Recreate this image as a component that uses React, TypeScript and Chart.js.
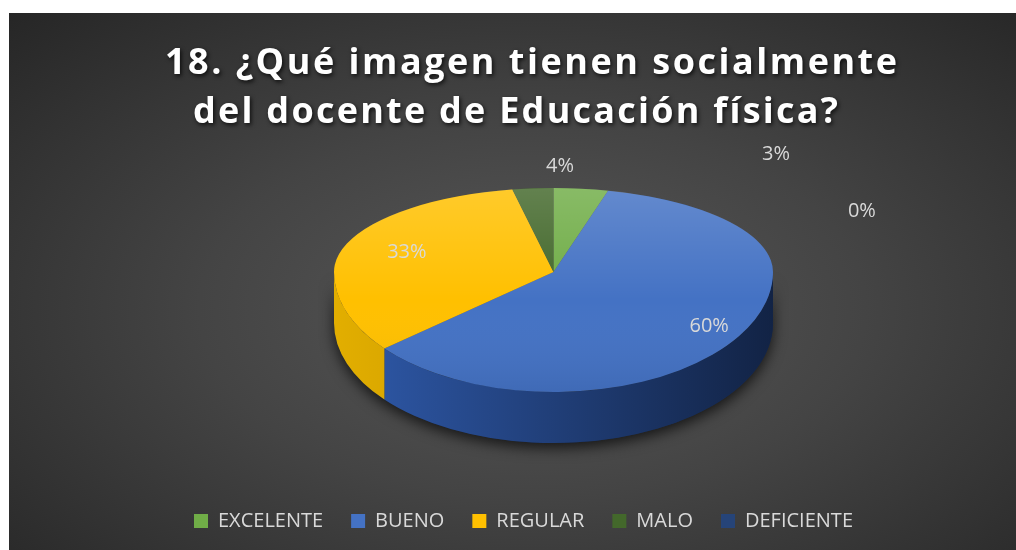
import React, { useEffect, useRef } from "react";
import { Chart, registerables } from "chart.js";

Chart.register(...registerables);

// ---------- data ----------
const categories = ["EXCELENTE", "BUENO", "REGULAR", "MALO", "DEFICIENTE"];
const values = [4, 60, 33, 3, 0];
const titleLines = ["18. ¿Qué imagen tienen socialmente", "del docente de Educación física?"];

// ---------- styles ----------
const topColors = ["#70AD47", "#4472C4", "#FFC000", "#43682B", "#264478"];
const sideLeft = ["#5f9a3c", "#2f5aab", "#e2ae00", "#3a5c26", "#203a68"];
const sideRight = ["#3d6626", "#122345", "#a88000", "#243a17", "#101f3a"];
const FONT = "'Open Sans', 'Liberation Sans', sans-serif";
const TEXT = "#d9d9d9";

// pie geometry (top face: vertex, half-width, back and front half-heights, depth) in canvas px
const PIE = { cx: 544.5, vy: 259, rx: 219.5, ryTop: 84, ryBot: 120, depth: 51 };
// label placement: r = radial factor at slice middle, or fixed normalized offset (x,y)
const labelPlace: any[] = [
  { x: 0.03, y: -1.26 },
  { r: 0.84 },
  { r: 0.71 },
  { x: 1.014, y: -1.405 },
  { x: 1.405, y: -0.726 },
];
// title layout
const titleLayout = [
  { left: 156, width: 732, base: 61 },
  { left: 184, width: 645, base: 110 },
];

const TAU = Math.PI * 2;

function visibleRanges(s: number, e: number): [number, number][] {
  const out: [number, number][] = [];
  for (const k of [-TAU, 0, TAU]) {
    const a = Math.max(s + k, 0);
    const b = Math.min(e + k, Math.PI);
    if (b > a) out.push([a, b]);
  }
  return out;
}

const pie3d = {
  id: "pie3d",
  beforeDatasetsDraw(chart: any) {
    const ctx: CanvasRenderingContext2D = chart.ctx;
    const meta = chart.getDatasetMeta(0);
    const arcs = meta.data;
    const { cx, vy, rx, ryTop, ryBot, depth } = PIE;
    // shadow under side
    ctx.save();
    ctx.shadowColor = "rgba(0,0,0,0.7)";
    ctx.shadowBlur = 14;
    ctx.shadowOffsetY = 5;
    ctx.beginPath();
    ctx.ellipse(cx, vy, rx, ryBot, 0, 0, Math.PI);
    ctx.ellipse(cx, vy + depth, rx, ryBot, 0, Math.PI, 0, true);
    ctx.closePath();
    ctx.fillStyle = "#1a2a4a";
    ctx.fill();
    ctx.restore();
    // side walls
    arcs.forEach((el: any, i: number) => {
      if (!values[i]) return;
      visibleRanges(el.startAngle, el.endAngle).forEach(([a, b]) => {
        const g = ctx.createLinearGradient(cx - rx, 0, cx + rx, 0);
        g.addColorStop(0, sideLeft[i]);
        g.addColorStop(1, sideRight[i]);
        ctx.beginPath();
        ctx.ellipse(cx, vy, rx, ryBot, 0, a, b);
        ctx.ellipse(cx, vy + depth, rx, ryBot, 0, b, a, true);
        ctx.closePath();
        ctx.fillStyle = g;
        ctx.fill();
      });
    });
    // top face: library arcs drawn in two halves (back / front) for a perspective look
    const a0 = arcs[0];
    const R = a0.outerRadius;
    const W = chart.width;
    const H = chart.height;
    [
      { y0: 0, y1: vy, ry: ryTop },
      { y0: vy, y1: H, ry: ryBot },
    ].forEach((h) => {
      ctx.save();
      ctx.beginPath();
      ctx.rect(0, h.y0, W, h.y1 - h.y0);
      ctx.clip();
      ctx.translate(cx, vy);
      ctx.scale(rx / R, h.ry / R);
      ctx.translate(-a0.x, -a0.y);
      meta.controller.draw();
      ctx.restore();
    });
    // lighting overlay on top face
    ctx.save();
    const g = ctx.createLinearGradient(0, vy - ryTop, 0, vy + ryBot);
    g.addColorStop(0, "rgba(255,255,255,0.17)");
    g.addColorStop(0.55, "rgba(255,255,255,0.0)");
    g.addColorStop(1, "rgba(0,0,0,0.07)");
    ctx.beginPath();
    ctx.ellipse(cx, vy, rx, ryTop, 0, Math.PI, TAU);
    ctx.ellipse(cx, vy, rx, ryBot, 0, 0, Math.PI);
    ctx.closePath();
    ctx.fillStyle = g;
    ctx.fill();
    ctx.restore();
    // labels
    ctx.save();
    ctx.font = `20px ${FONT}`;
    ctx.fillStyle = TEXT;
    ctx.textAlign = "center";
    ctx.textBaseline = "middle";
    const total = values.reduce((s, v) => s + v, 0);
    arcs.forEach((el: any, i: number) => {
      const p = labelPlace[i];
      let x, y;
      if (p.r !== undefined) {
        const m = (el.startAngle + el.endAngle) / 2;
        const s = Math.sin(m);
        x = cx + Math.cos(m) * rx * p.r;
        y = vy + s * (s < 0 ? ryTop : ryBot) * p.r;
      } else {
        x = cx + p.x * rx;
        y = vy + p.y * (p.y < 0 ? ryTop : ryBot);
      }
      ctx.fillText(Math.round((values[i] / total) * 100) + "%", x, y);
    });
    ctx.restore();
    return false;
  },
  afterDraw(chart: any) {
    const ctx: CanvasRenderingContext2D = chart.ctx;
    ctx.save();
    ctx.font = `bold 36px ${FONT}`;
    ctx.textAlign = "left";
    ctx.textBaseline = "alphabetic";
    ctx.fillStyle = "#ffffff";
    ctx.shadowColor = "rgba(0,0,0,0.75)";
    ctx.shadowBlur = 4;
    ctx.shadowOffsetX = 1.5;
    ctx.shadowOffsetY = 2;
    titleLines.forEach((line, i) => {
      const L = titleLayout[i];
      (ctx as any).letterSpacing = "0px";
      const w = ctx.measureText(line).width;
      const sp = (L.width - w) / (line.length - 1);
      (ctx as any).letterSpacing = `${sp}px`;
      ctx.fillText(line, L.left, L.base);
    });
    ctx.restore();
  },
};

export default function App() {
  const ref = useRef<HTMLCanvasElement>(null);
  useEffect(() => {
    if (!ref.current) return;
    const chart = new Chart(ref.current, {
      type: "pie",
      data: {
        labels: categories,
        datasets: [
          {
            data: values,
            backgroundColor: topColors,
            borderWidth: 0,
            clip: false as any,
          },
        ],
      },
      options: {
        responsive: false,
        devicePixelRatio: 1,
        animation: false,
        rotation: 0,
        layout: { padding: { left: 22, right: 0, top: 130, bottom: 9 } },
        plugins: {
          tooltip: { enabled: false },
          title: { display: false },
          legend: {
            position: "bottom",
            labels: {
              boxWidth: 14,
              boxHeight: 14,
              padding: 28,
              color: TEXT,
              font: { family: FONT, size: 20 },
            },
          },
        },
      },
      plugins: [pie3d],
    });
    return () => chart.destroy();
  }, []);
  return (
    <div
      style={{
        position: "absolute",
        left: 9,
        top: 13,
        width: 1007,
        height: 537,
        overflow: "hidden",
        background: "radial-gradient(ellipse farthest-corner at 52% 55%, #585858 0%, #444444 45%, #262626 100%)",
      }}
    >
      <canvas ref={ref} width={1007} height={537} style={{ display: "block" }} />
    </div>
  );
}
